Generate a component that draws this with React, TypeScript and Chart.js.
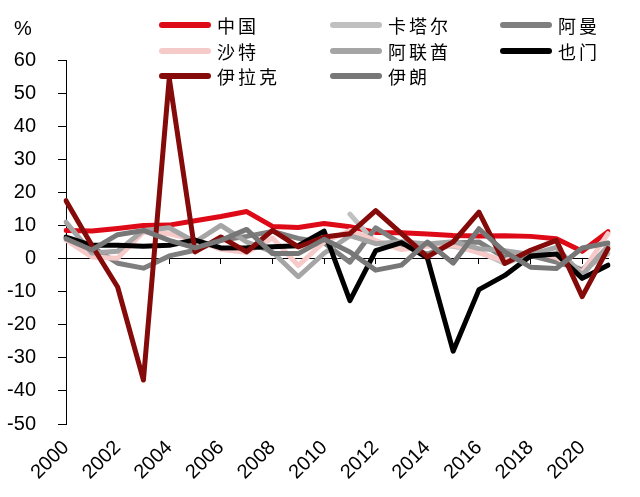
import React, { useEffect, useRef } from 'react';
import { Chart, registerables } from 'chart.js';

Chart.register(...registerables);

const years = ['2000', '2001', '2002', '2003', '2004', '2005', '2006', '2007', '2008', '2009', '2010',
  '2011', '2012', '2013', '2014', '2015', '2016', '2017', '2018', '2019', '2020', '2021'];
const xTickLabels = ['2000', '2002', '2004', '2006', '2008', '2010', '2012', '2014', '2016', '2018', '2020'];
const yTickMin = -50;
const yTickMax = 60;
const yTickStep = 10;
const unitLabel = '%';

const china = [8.5, 8.3, 9.1, 10.0, 10.1, 11.4, 12.7, 14.2, 9.7, 9.4, 10.6, 9.6, 7.9, 7.8, 7.4, 7.0, 6.8, 6.9, 6.7, 6.0, 2.2, 8.1];
const qatar = [null, null, null, null, null, null, null, null, null, null, null, 13.4, 4.7, 4.4, 4.0, 3.7, 2.1, -1.5, 1.2, 0.7, -3.6, 1.5];
const oman = [6.2, 3.5, -1.4, -2.9, 0.8, 2.5, 5.5, 6.7, 8.2, 6.1, 4.8, -1.1, 9.3, 4.4, 1.3, 4.7, 5.0, 0.3, 0.9, -1.1, -3.4, 3.0];
const saudi = [5.6, 0.5, 0.1, 8.0, 7.5, 5.6, 2.8, 1.8, 6.2, -2.1, 5.0, 8.5, 5.4, 2.7, 3.7, 4.1, 1.7, -0.7, 2.4, 0.3, -4.1, 7.5];
const uae = [11.0, 1.7, 2.2, 8.5, 9.3, 5.0, 10.0, 5.0, 2.0, -5.5, 1.6, 6.9, 4.5, 5.1, 4.4, 5.1, 3.0, 2.4, 1.2, 3.4, -5.0, 3.8];
const yemen = [6.5, 4.0, 4.0, 3.7, 4.0, 5.6, 3.2, 3.3, 3.6, 3.9, 8.3, -12.7, 2.4, 4.8, 0.2, -28.0, -9.4, -5.1, 0.8, 1.4, -6.0, -2.0];
const iraq = [17.5, 4.0, -8.6, -36.7, 54.5, 2.0, 6.5, 2.0, 8.5, 3.5, 6.5, 7.5, 14.5, 7.5, 0.5, 5.0, 14.0, -1.5, 2.5, 5.5, -11.5, 3.0];
const iran = [6.0, 2.6, 7.2, 8.5, 5.5, 3.2, 5.5, 8.8, 1.5, 1.5, 5.8, 2.0, -3.5, -2.0, 5.0, -1.4, 9.0, 2.0, -2.6, -3.0, 3.2, 4.7];

const seriesNames = ['中国', '卡塔尔', '阿曼', '沙特', '阿联酋', '也门', '伊拉克', '伊朗'];
const seriesValues = [china, qatar, oman, saudi, uae, yemen, iraq, iran];
const seriesColors = ['#DE0A17', '#C0C0C0', '#7F7F7F', '#F7CACA', '#A5A5A5', '#000000', '#850A0A', '#777777'];

const numFont = { family: '"Liberation Sans", Arial, sans-serif', size: 20 };

export default function App() {
  const canvasRef = useRef<HTMLCanvasElement | null>(null);

  useEffect(() => {
    if (!canvasRef.current) return;
    const n = seriesNames.length;
    const chart = new Chart(canvasRef.current, {
      type: 'line',
      data: {
        labels: years,
        datasets: seriesNames.map((name, i) => ({
          label: name,
          data: seriesValues[i],
          borderColor: seriesColors[i],
          backgroundColor: seriesColors[i],
          borderWidth: 5,
          pointRadius: 0,
          tension: 0,
          fill: false,
          spanGaps: false,
          borderJoinStyle: 'round',
          borderCapStyle: 'round',
          order: n - i,
          xAxisID: 'x',
          yAxisID: 'y',
        })),
      },
      options: {
        responsive: false,
        animation: false,
        layout: { padding: { top: 60, right: 32, left: 0, bottom: 0 } },
        plugins: { legend: { display: false }, tooltip: { enabled: false }, title: { display: false } },
        scales: {
          x: {
            type: 'category',
            position: { y: 0 } as any,
            offset: false,
            grid: { drawOnChartArea: false, drawTicks: true, tickLength: 5, color: '#000' },
            border: { display: true, color: '#000', width: 1 },
            ticks: { display: false, autoSkip: false },
            afterBuildTicks: (s: any) => { s.ticks = s.ticks.filter((t: any) => t.value % 2 === 0); },
          },
          x2: {
            type: 'category',
            position: 'bottom',
            offset: false,
            grid: { display: false, drawTicks: false },
            border: { display: false },
            ticks: {
              autoSkip: false,
              minRotation: 45,
              maxRotation: 45,
              color: '#000',
              padding: 12,
              font: numFont,
              callback: (v: any) => {
                const lbl = years[v as number];
                return xTickLabels.includes(lbl) ? lbl : '';
              },
            },
            afterBuildTicks: (s: any) => { s.ticks = s.ticks.filter((t: any) => t.value % 2 === 0); },
            afterFit: (s: any) => { s.height = 73; },
          },
          y: {
            min: yTickMin,
            max: yTickMax,
            ticks: { stepSize: yTickStep, color: '#000', font: numFont, padding: 22 },
            grid: { drawOnChartArea: false, drawTicks: true, tickLength: 8, color: '#000' },
            border: { display: true, color: '#000', width: 1 },
            afterFit: (s: any) => { s.width = 66; },
          },
        },
      },
    } as any);
    return () => chart.destroy();
  }, []);

  const colLeft = [159, 330, 500];
  const rowCenter = [25, 51, 76];

  return (
    <div style={{ position: 'absolute', left: 0, top: 0, width: 640, height: 497, background: '#fff', overflow: 'hidden' }}>
      <canvas ref={canvasRef} width={640} height={497} style={{ position: 'absolute', left: 0, top: 0 }} />
      <div style={{ position: 'absolute', left: 14, top: 16, fontFamily: '"Liberation Sans", Arial, sans-serif', fontSize: 20, lineHeight: '24px', color: '#000' }}>{unitLabel}</div>
      {seriesNames.map((name, i) => {
        const row = Math.floor(i / 3);
        const col = i % 3;
        return (
          <div key={name} style={{ position: 'absolute', left: colLeft[col], top: rowCenter[row] - 12, height: 24, display: 'flex', alignItems: 'center' }}>
            <div style={{ width: 52, height: 6, borderRadius: 3, background: seriesColors[i] }} />
            <div style={{ marginLeft: 6, fontFamily: '"Noto Sans CJK SC", sans-serif', fontSize: 18, letterSpacing: 3, lineHeight: '24px', color: '#000', whiteSpace: 'nowrap' }}>{name}</div>
          </div>
        );
      })}
    </div>
  );
}
